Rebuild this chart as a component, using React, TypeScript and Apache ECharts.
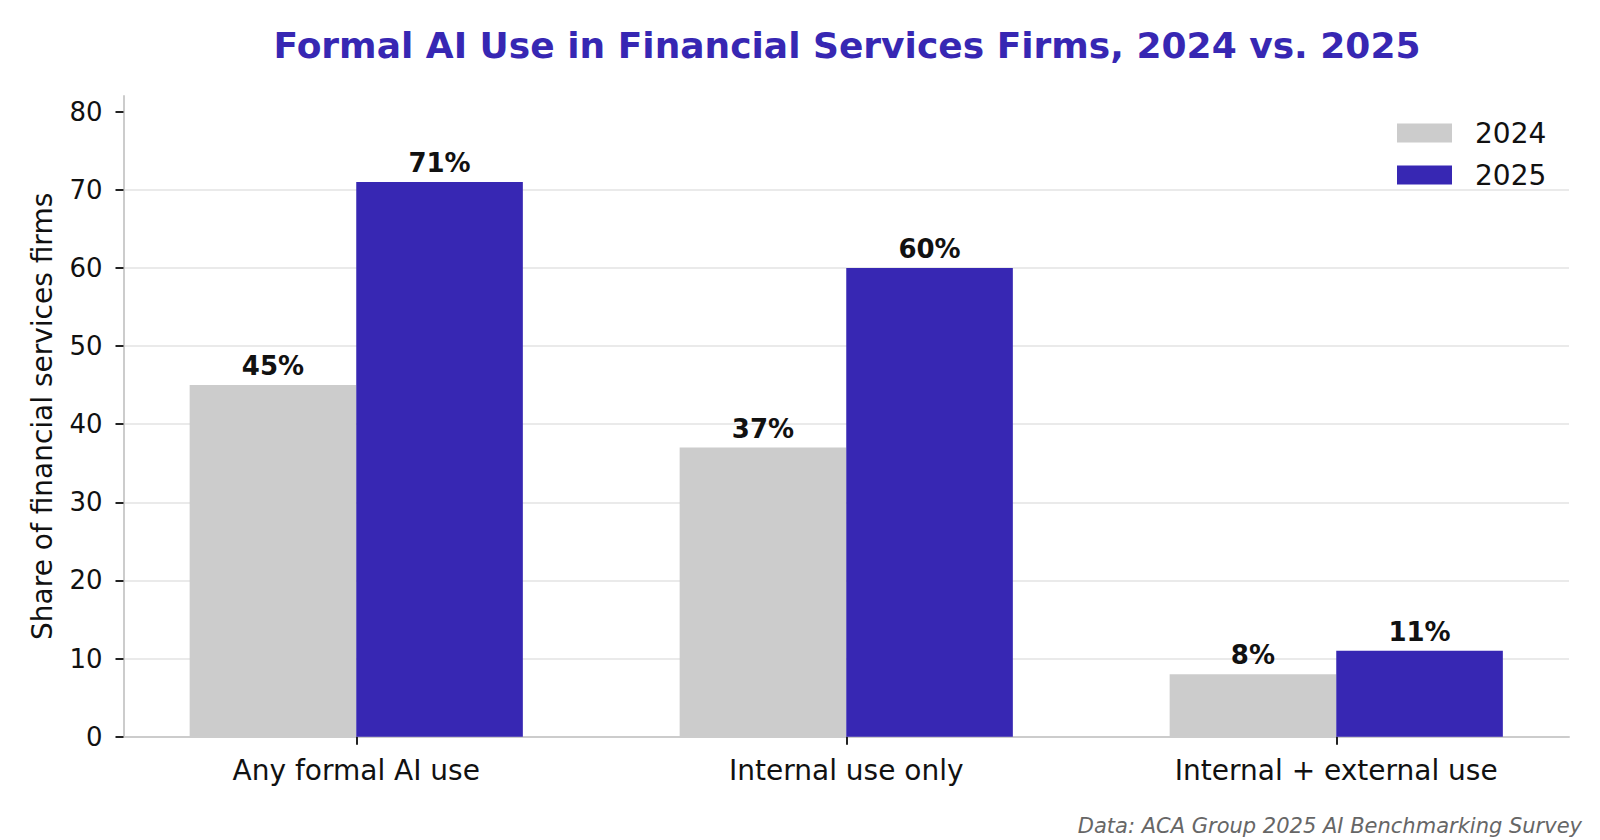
import { useEffect, useRef } from 'react';
import * as echarts from 'echarts';

// Survey data: share of financial services firms reporting formal AI use
const categories = ['Any formal AI use', 'Internal use only', 'Internal + external use'];
const values2024 = [45, 37, 8];
const values2025 = [71, 60, 11];
const seriesNames = ['2024', '2025'];
const yTicks = [0, 10, 20, 30, 40, 50, 60, 70, 80];
const xTicks = [0, 1, 2];

const FONT = 'DejaVu Sans';
const PURPLE = '#3727b3';
const GREY = '#cccccc';

export default function App() {
  const ref = useRef<HTMLDivElement>(null);

  useEffect(() => {
    document.body.style.margin = '0';
    if (!ref.current) return;
    const chart = echarts.init(ref.current, undefined, { renderer: 'svg' });

    const barLabel = {
      show: true,
      position: 'top',
      distance: 6,
      fontFamily: FONT,
      fontSize: 26,
      lineHeight: 26,
      fontWeight: 'bold',
      color: '#111',
      formatter: (p: any) => `${p.value[1]}%`,
    };

    chart.setOption({
      animation: false,
      backgroundColor: '#ffffff',
      textStyle: { fontFamily: FONT },
      title: {
        text: 'Formal AI Use in Financial Services Firms, 2024 vs. 2025',
        left: 847,
        top: 27,
        textAlign: 'center',
        padding: 0,
        textStyle: {
          fontFamily: FONT,
          fontSize: 36,
          lineHeight: 36,
          fontWeight: 'bold',
          color: PURPLE,
        },
      },
      legend: {
        data: seriesNames,
        orient: 'vertical',
        left: 1397,
        top: 119,
        padding: 0,
        itemWidth: 55,
        itemHeight: 19,
        itemGap: 14,
        icon: 'rect',
        textStyle: {
          fontFamily: FONT,
          fontSize: 28,
          lineHeight: 28,
          color: '#111',
          padding: [0, 0, 0, 18],
        },
      },
      grid: { left: 123.5, right: 31, top: 96, bottom: 103.3, containLabel: false },
      xAxis: {
        type: 'value',
        min: -0.475,
        max: 2.475,
        splitLine: { show: false },
        axisLine: { show: true, onZero: false, lineStyle: { color: '#cccccc', width: 2 } },
        axisTick: {
          show: true,
          customValues: xTicks,
          length: 8,
          lineStyle: { color: '#222', width: 2 },
        },
        axisLabel: {
          customValues: xTicks,
          formatter: (v: number) => categories[Math.round(v)] ?? '',
          fontFamily: FONT,
          fontSize: 28,
          lineHeight: 28,
          color: '#111',
          margin: 20,
        },
      },
      yAxis: {
        type: 'value',
        min: 0,
        max: 82,
        interval: 10,
        name: 'Share of financial services firms',
        nameLocation: 'middle',
        nameGap: 67,
        nameTextStyle: { fontFamily: FONT, fontSize: 28, lineHeight: 28, color: '#111' },
        axisLine: { show: true, onZero: false, lineStyle: { color: '#cccccc', width: 2 } },
        axisTick: {
          show: true,
          customValues: yTicks,
          length: 8,
          lineStyle: { color: '#222', width: 2 },
        },
        axisLabel: {
          customValues: yTicks,
          fontFamily: FONT,
          fontSize: 26,
          color: '#111',
          margin: 21,
        },
        splitLine: {
          show: true,
          showMinLine: false,
          showMaxLine: false,
          lineStyle: { color: '#e3e3e3', width: 1.5 },
        },
      },
      series: [
        {
          name: seriesNames[0],
          type: 'bar',
          barWidth: '34%',
          barGap: '0%',
          itemStyle: { color: GREY },
          label: barLabel,
          data: values2024.map((v, i) => [xTicks[i], v]),
        },
        {
          name: seriesNames[1],
          type: 'bar',
          barWidth: '34%',
          barGap: '0%',
          itemStyle: { color: PURPLE },
          label: barLabel,
          data: values2025.map((v, i) => [xTicks[i], v]),
        },
      ],
      graphic: [
        {
          type: 'text',
          right: 18,
          top: 815,
          style: {
            text: 'Data: ACA Group 2025 AI Benchmarking Survey',
            fontFamily: FONT,
            fontSize: 21,
            fontStyle: 'italic',
            fill: '#666666',
          },
        },
      ],
    });

    return () => chart.dispose();
  }, []);

  return <div ref={ref} style={{ width: 1600, height: 840 }} />;
}
